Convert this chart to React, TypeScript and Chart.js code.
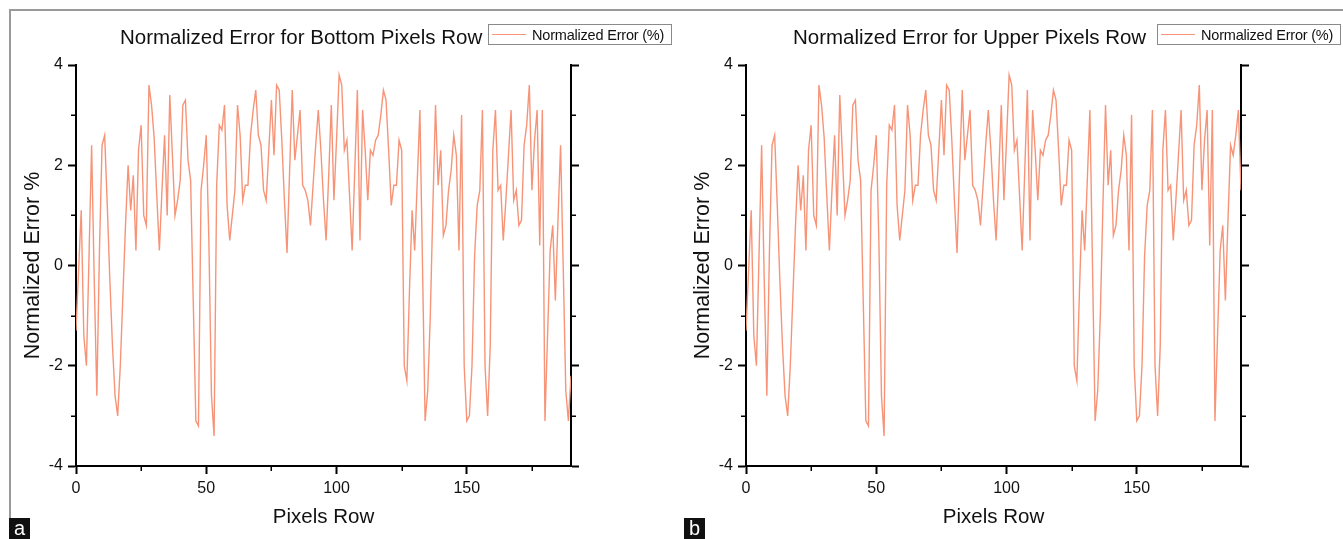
import React, { useEffect, useRef } from "react";
import { Chart, registerables } from "chart.js";

Chart.register(...registerables);

// ---------- data ----------
const pixelRows = Array.from({ length: 191 }, (_, i) => i);

const bottomRowError = [
  -1.3, -0.1, 1.1, -1.4, -2.0, 0.2, 2.4, -0.3, -2.6, 0.3,
  2.4, 2.6, 1.2, -0.3, -1.6, -2.6, -3.0, -2.0, -0.6, 0.8,
  2.0, 1.1, 1.8, 0.3, 2.3, 2.8, 1.0, 0.8, 3.6, 3.2,
  2.55, 1.4, 0.3, 1.5, 2.6, 1.0, 3.4, 2.2, 1.0, 1.3,
  1.7, 3.2, 3.3, 2.1, 1.7, -0.7, -3.1, -3.2, 1.5, 2.0,
  2.6, 0.5, -2.6, -3.4, 1.6, 2.8, 2.7, 3.2, 1.2, 0.5,
  1.0, 1.5, 3.2, 2.6, 1.3, 1.6, 1.6, 2.6, 3.1, 3.5,
  2.6, 2.4, 1.5, 1.3, 2.3, 3.3, 2.2, 3.6, 3.5, 2.5,
  1.3, 0.25, 1.9, 3.5, 2.1, 2.6, 3.1, 1.6, 1.5, 1.3,
  0.8, 1.6, 2.4, 3.1, 2.3, 1.3, 0.5, 1.8, 3.2, 1.3,
  2.5, 3.8, 3.6, 2.3, 2.5, 1.4, 0.3, 1.9, 3.5, 0.5,
  3.1, 2.3, 1.3, 2.3, 2.2, 2.5, 2.6, 3.0, 3.5, 3.3,
  2.3, 1.2, 1.6, 1.6, 2.5, 2.3, -2.0, -2.3, -0.5, 1.1,
  0.3, 1.7, 3.1, 0.0, -3.1, -2.5, -1.0, 1.2, 3.2, 1.6,
  2.3, 0.6, 0.8, 1.5, 1.9, 2.6, 2.2, 0.3, 3.0, -2.0,
  -3.1, -3.0, -2.0, 0.2, 1.2, 1.5, 3.1, -2.0, -3.0, -1.6,
  2.3, 3.1, 1.5, 1.6, 0.5, 1.3, 2.2, 3.1, 1.3, 1.5,
  0.8, 0.9, 2.4, 2.8, 3.6, 1.5, 2.5, 3.1, 0.4, 3.1,
  -3.1, -1.4, 0.3, 0.8, -0.7, 0.9, 2.4, 0.0, -2.5, -3.1,
  -2.2,
];

const upperRowError = [
  -1.3, -0.1, 1.1, -1.4, -2.0, 0.2, 2.4, -0.3, -2.6, 0.3,
  2.4, 2.6, 1.2, -0.3, -1.6, -2.6, -3.0, -2.0, -0.6, 0.8,
  2.0, 1.1, 1.8, 0.3, 2.3, 2.8, 1.0, 0.8, 3.6, 3.2,
  2.55, 1.4, 0.3, 1.5, 2.6, 1.0, 3.4, 2.2, 1.0, 1.3,
  1.7, 3.2, 3.3, 2.1, 1.7, -0.7, -3.1, -3.2, 1.5, 2.0,
  2.6, 0.5, -2.6, -3.4, 1.6, 2.8, 2.7, 3.2, 1.2, 0.5,
  1.0, 1.5, 3.2, 2.6, 1.3, 1.6, 1.6, 2.6, 3.1, 3.5,
  2.6, 2.4, 1.5, 1.3, 2.3, 3.3, 2.2, 3.6, 3.5, 2.5,
  1.3, 0.25, 1.9, 3.5, 2.1, 2.6, 3.1, 1.6, 1.5, 1.3,
  0.8, 1.6, 2.4, 3.1, 2.3, 1.3, 0.5, 1.8, 3.2, 1.3,
  2.5, 3.8, 3.6, 2.3, 2.5, 1.4, 0.3, 1.9, 3.5, 0.5,
  3.1, 2.3, 1.3, 2.3, 2.2, 2.5, 2.6, 3.0, 3.5, 3.3,
  2.3, 1.2, 1.6, 1.6, 2.5, 2.3, -2.0, -2.3, -0.5, 1.1,
  0.3, 1.7, 3.1, 0.0, -3.1, -2.5, -1.0, 1.2, 3.2, 1.6,
  2.3, 0.6, 0.8, 1.5, 1.9, 2.6, 2.2, 0.3, 3.0, -2.0,
  -3.1, -3.0, -2.0, 0.2, 1.2, 1.5, 3.1, -2.0, -3.0, -1.6,
  2.3, 3.1, 1.5, 1.6, 0.5, 1.3, 2.2, 3.1, 1.3, 1.5,
  0.8, 0.9, 2.4, 2.8, 3.6, 1.5, 2.5, 3.1, 0.4, 3.1,
  -3.1, -1.4, 0.3, 0.8, -0.7, 0.9, 2.4, 2.2, 2.6, 3.1,
  1.5,
];

const xMajorTicks = [0, 50, 100, 150];
const xMinorTicks = [25, 75, 125, 175];
const yMajorTicks = [-4, -2, 0, 2, 4];
const yMinorTicks = [-3, -1, 1, 3];

const seriesLabel = "Normalized Error (%)";
const LINE_COLOR = "rgb(247,148,120)";
const FONT = "'Liberation Sans', Arial, Helvetica, sans-serif";

Chart.defaults.font.family = FONT;

const minorTicksPlugin = {
  id: "minorTicks",
  afterDraw(chart: any) {
    const { ctx, chartArea } = chart;
    const xs = chart.scales.x;
    const ys = chart.scales.y;
    ctx.save();
    ctx.strokeStyle = "#000";
    ctx.lineWidth = 1.5;
    ctx.beginPath();
    for (const v of xMinorTicks) {
      const px = Math.round(xs.getPixelForValue(v)) + 0.25;
      ctx.moveTo(px, chartArea.bottom);
      ctx.lineTo(px, chartArea.bottom + 5);
    }
    for (const v of yMinorTicks) {
      const py = Math.round(ys.getPixelForValue(v)) + 0.25;
      ctx.moveTo(chartArea.left, py);
      ctx.lineTo(chartArea.left - 5, py);
      ctx.moveTo(chartArea.right, py);
      ctx.lineTo(chartArea.right + 5, py);
    }
    ctx.stroke();
    ctx.restore();
  },
};

type PanelProps = {
  left: number;
  width: number;
  rightAxisWidth: number;
  values: number[];
};

function ChartPanel({ left, width, rightAxisWidth, values }: PanelProps) {
  const ref = useRef<HTMLCanvasElement | null>(null);
  useEffect(() => {
    if (!ref.current) return;
    const gridOpts = {
      drawOnChartArea: false,
      tickLength: 8,
      tickWidth: 2,
      tickColor: "#000",
    };
    const borderOpts = { display: true, color: "#000", width: 2 };
    const chart = new Chart(ref.current, {
      type: "line",
      data: {
        labels: pixelRows,
        datasets: [
          {
            label: seriesLabel,
            data: values,
            borderColor: LINE_COLOR,
            borderWidth: 1.4,
            pointRadius: 0,
            tension: 0,
            fill: false,
          },
        ],
      },
      options: {
        responsive: false,
        animation: false,
        events: [],
        layout: { padding: { top: 65, left: 0, right: 0, bottom: 0 } },
        plugins: {
          legend: { display: false },
          title: { display: false },
          tooltip: { enabled: false },
        },
        scales: {
          x: {
            type: "linear",
            min: 0,
            max: 190,
            afterBuildTicks: (s: any) => {
              s.ticks = xMajorTicks.map((v) => ({ value: v }));
            },
            ticks: {
              font: { size: 16 },
              color: "#111",
              padding: 5,
              maxRotation: 0,
              autoSkip: false,
            },
            grid: gridOpts,
            border: borderOpts,
            title: {
              display: true,
              text: "Pixels Row",
              font: { size: 20.5 },
              color: "#111",
              padding: { top: 0, bottom: 9 },
            },
            afterFit: (s: any) => {
              s.height = 73;
            },
          },
          y: {
            type: "linear",
            position: "left",
            min: -4,
            max: 4,
            afterBuildTicks: (s: any) => {
              s.ticks = yMajorTicks.map((v) => ({ value: v }));
            },
            ticks: {
              font: { size: 16 },
              color: "#111",
              padding: 5,
            },
            grid: gridOpts,
            border: borderOpts,
            title: {
              display: true,
              text: "Normalized Error %",
              font: { size: 21.5 },
              color: "#111",
              padding: { top: 20, bottom: 0 },
            },
            afterFit: (s: any) => {
              s.width = 76;
            },
          },
          y2: {
            type: "linear",
            position: "right",
            min: -4,
            max: 4,
            afterBuildTicks: (s: any) => {
              s.ticks = yMajorTicks.map((v) => ({ value: v }));
            },
            ticks: { display: false },
            grid: gridOpts,
            border: borderOpts,
            afterFit: (s: any) => {
              s.width = rightAxisWidth;
            },
          },
        },
      } as any,
      plugins: [minorTicksPlugin],
    });
    return () => chart.destroy();
  }, [values, rightAxisWidth]);

  return (
    <canvas
      ref={ref}
      width={width}
      height={539}
      style={{ position: "absolute", left, top: 0, width, height: 539 }}
    />
  );
}

function Legend({ left, top }: { left: number; top: number }) {
  return (
    <div
      style={{
        position: "absolute",
        left,
        top,
        width: 182,
        height: 19,
        border: "1px solid #8a8a8a",
        background: "#fff",
        display: "flex",
        alignItems: "center",
        fontFamily: FONT,
        fontSize: 14.5,
        color: "#111",
        boxSizing: "content-box",
      }}
    >
      <span
        style={{
          display: "inline-block",
          width: 34,
          height: 1.5,
          background: LINE_COLOR,
          marginLeft: 3,
          marginRight: 6,
        }}
      />
      <span style={{ whiteSpace: "nowrap", letterSpacing: -0.2 }}>{seriesLabel}</span>
    </div>
  );
}

function Title({ left, text }: { left: number; text: string }) {
  return (
    <div
      style={{
        position: "absolute",
        left,
        top: 24,
        fontFamily: FONT,
        fontSize: 20.5,
        lineHeight: "26px",
        color: "#111",
        whiteSpace: "nowrap",
      }}
    >
      {text}
    </div>
  );
}

function Tag({ left, text }: { left: number; text: string }) {
  return (
    <div
      style={{
        position: "absolute",
        left,
        top: 518,
        width: 21,
        height: 21,
        background: "#111",
        color: "#fff",
        fontFamily: FONT,
        fontSize: 20,
        lineHeight: "21px",
        textAlign: "center",
      }}
    >
      {text}
    </div>
  );
}

export default function App() {
  return (
    <div
      style={{
        position: "absolute",
        left: 0,
        top: 0,
        width: 1343,
        height: 539,
        background: "#fff",
        overflow: "hidden",
      }}
    >
      {/* figure frame */}
      <div style={{ position: "absolute", left: 9, top: 9, width: 1334, height: 2, background: "#9a9a9a" }} />
      <div style={{ position: "absolute", left: 9, top: 9, width: 2, height: 509, background: "#9a9a9a" }} />

      <ChartPanel left={0} width={670} rightAxisWidth={99} values={bottomRowError} />
      <ChartPanel left={670} width={673} rightAxisWidth={102} values={upperRowError} />

      <Title left={120} text="Normalized Error for Bottom Pixels Row" />
      <Legend left={488} top={24} />
      <Title left={793} text="Normalized Error for Upper Pixels Row" />
      <Legend left={1157} top={24} />

      <Tag left={9} text="a" />
      <Tag left={684} text="b" />
    </div>
  );
}
